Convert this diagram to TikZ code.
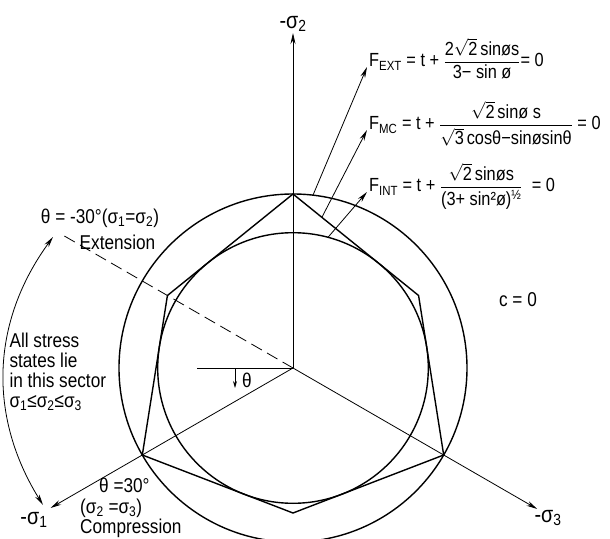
\documentclass[tikz,border=0pt]{standalone}
\usepackage{amsmath}
\usepackage{fontspec}
\setmainfont{Liberation Sans}[FakeStretch=0.86]
\usetikzlibrary{arrows.meta,positioning,calc}

\begin{document}
\begin{tikzpicture}[
  x=1pt,y=1pt,
  font=\fontsize{20}{20}\selectfont,
  axis/.style={line width=0.8pt,-{Stealth[length=11pt,width=5pt]}},
  curve/.style={line width=1.4pt},
  pointer/.style={line width=0.8pt,-{Stealth[length=11pt,width=5pt]}},
  axislabel/.style={font=\fontsize{23}{24}\selectfont,inner sep=1pt},
  formula/.style={anchor=base west,inner sep=2pt,font=\fontsize{19}{20}\selectfont}
]
  \useasboundingbox (-293,-170) rectangle (317,368);
  \coordinate (origin) at (0,0);
  \coordinate (s1tip) at (210:280);
  \coordinate (s2tip) at (90:335);
  \coordinate (s3tip) at (-30:282);
  \coordinate (extend) at (150:264);
  \coordinate (ref) at (-96,0);
  \foreach \a/\r/\n in {90/174/a,30/145/b,-30/174/c,-90/145/d,-150/174/e,150/145/f}
    \coordinate (h\n) at (\a:\r);

  \draw[curve] (origin) circle[radius=174];
  \draw[curve] (origin) circle[radius=135.3];
  \draw[curve] (ha) -- (hb) -- (hc) -- (hd) -- (he) -- (hf) -- cycle;

  \draw[axis] (origin) -- (s2tip);
  \draw[axis] (origin) -- (s1tip);
  \draw[axis] (origin) -- (s3tip);
  \draw[line width=0.8pt] (origin) -- (ref);
  \draw[line width=0.8pt,dash pattern=on 12pt off 6pt] (origin) -- (extend);

  \node[axislabel,above=0pt of s2tip] (s2lab) {-σ\textsubscript{2}};
  \node[axislabel] (s1lab) at (-259,-152) {-σ\textsubscript{1}};
  \node[axislabel] (s3lab) at (255,-150) {-σ\textsubscript{3}};

  \coordinate (thtop) at (-58,0);
  \coordinate (thbot) at (-58,-20);
  \draw[line width=0.8pt,-{Stealth[length=7pt,width=4pt]}] (thtop) -- (thbot);
  \node (thlab) at (-46,-12) {θ};

  \coordinate (arctop) at (-240,131);
  \coordinate (arcbot) at (-250,-137);
  \draw[pointer,{Stealth[length=11pt,width=5pt]}-{Stealth[length=11pt,width=5pt]}] (arctop) to[bend right=34] (arcbot);

  \node (extlab) at (-193,150) {θ = -30°(σ\textsubscript{1}=σ\textsubscript{2})};
  \node (extname) at (-175.5,126) {Extension};
  \node[align=left,anchor=west] (sector) at (-287,-4) {All stress\\states lie\\in this sector\\σ\textsubscript{1}≤σ\textsubscript{2}≤σ\textsubscript{3}};
  \node[align=left,anchor=north west,inner sep=1pt,font=\fontsize{20}{20.5}\selectfont] (comp) at (-214,-109) {\hspace*{19pt}θ =30°\\(σ\textsubscript{2} =σ\textsubscript{3})\\Compression};
  \node (czero) at (225,68) {c = 0};

  \node[formula] (fext) at (74,301) {F\textsubscript{EXT} = t + $\dfrac{\text{2}\sqrt{\text{2}}\,\text{sinøs}}{\text{3− sin ø}}$= 0};
  \node[formula] (fmc) at (74,238) {F\textsubscript{MC} = t + $\dfrac{\sqrt{\text{2}}\,\text{sinø s}}{\sqrt{\text{3}}\,\text{cosθ−sinøsinθ}}$ = 0};
  \node[formula] (fint) at (74,176) {F\textsubscript{INT} = t + $\dfrac{\sqrt{\text{2}}\,\text{sinøs}}{\text{(3+ sin²ø)\textsuperscript{½}}}$ \ = 0};

  \draw[pointer] (83.4:174) -- (fext.base west);
  \draw[pointer] ($(ha)!0.23!(hb)$) -- (fmc.base west);
  \draw[pointer] (75:135.3) -- (fint.base west);
\end{tikzpicture}
\end{document}
